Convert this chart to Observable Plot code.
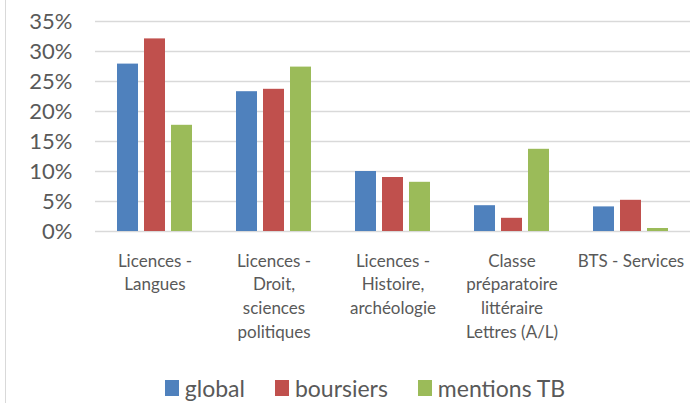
<!DOCTYPE html>
<html>
<head>
<meta charset="utf-8">
<script src="https://cdn.jsdelivr.net/npm/d3@7"></script>
<script src="https://cdn.jsdelivr.net/npm/@observablehq/plot@0.6"></script>
<style>
  html, body { margin: 0; padding: 0; background: #fff; }
  body { width: 690px; height: 403px; position: relative; overflow: hidden; font-family: Lato, "Open Sans", sans-serif; }
  #frame { position: absolute; left: 5px; top: 0; height: 403px; border-left: 1px solid #d9d9d9; }
  #chart svg { display: block; }
  #legend { display: flex; justify-content: center; align-items: center; padding-left: 40px; padding-top: 11px; font-size: 23px; line-height: 24px; color: #595959; }
  .item { display: flex; align-items: center; margin: 0 15px; }
  .sw { width: 14px; height: 16px; margin-right: 6px; }
</style>
</head>
<body>
<div id="frame"></div>
<div id="chart"></div>
<div id="legend"></div>
<script>
const categories = [
  "Licences -\nLangues",
  "Licences -\nDroit,\nsciences\npolitiques",
  "Licences -\nHistoire,\narchéologie",
  "Classe\npréparatoire\nlittéraire\nLettres (A/L)",
  "BTS - Services"
];
const series = ["global", "boursiers", "mentions TB"];
const colors = ["#4F81BD", "#C0504D", "#9BBB59"];
const globalValues = [27.9, 23.3, 10.0, 4.3, 4.1];
const boursiersValues = [32.1, 23.7, 9.0, 2.2, 5.2];
const mentionsTBValues = [17.7, 27.4, 8.2, 13.7, 0.5];
const yTicks = [0, 5, 10, 15, 20, 25, 30, 35];

const valuesBySeries = [globalValues, boursiersValues, mentionsTBValues];
const data = [];
categories.forEach((c, i) => {
  series.forEach((s, j) => data.push({cat: c, series: s, value: valuesBySeries[j][i]}));
});

const chart = Plot.plot({
  width: 690,
  height: 365,
  marginLeft: 94,
  marginRight: 0,
  marginTop: 21,
  marginBottom: 134,
  style: {fontFamily: "Lato, 'Open Sans', sans-serif", color: "#595959", background: "transparent"},
  fx: {domain: categories, padding: 0},
  x: {domain: series, paddingInner: 0.22, paddingOuter: 0.8, axis: null},
  y: {domain: [0, 35]},
  color: {domain: series, range: colors},
  marks: [
    Plot.gridY(yTicks, {stroke: "#d9d9d9", strokeOpacity: 1, strokeWidth: 1.5}),
    Plot.barY(data, {fx: "cat", x: "series", y: "value", fill: "series"}),
    Plot.axisY({ticks: yTicks, tickSize: 0, tickPadding: 23, tickFormat: d => d + "%", fontSize: 22, label: null, fill: "#595959"}),
    Plot.axisFx({anchor: "bottom", tickSize: 0, tickPadding: 18, fontSize: 17, lineHeight: 1.41, label: null, fill: "#595959"})
  ]
});
document.getElementById("chart").appendChild(chart);

const legend = document.getElementById("legend");
series.forEach((s, i) => {
  const item = document.createElement("div");
  item.className = "item";
  const sw = document.createElement("span");
  sw.className = "sw";
  sw.style.background = colors[i];
  const t = document.createElement("span");
  t.textContent = s;
  item.appendChild(sw);
  item.appendChild(t);
  legend.appendChild(item);
});
</script>
</body>
</html>
